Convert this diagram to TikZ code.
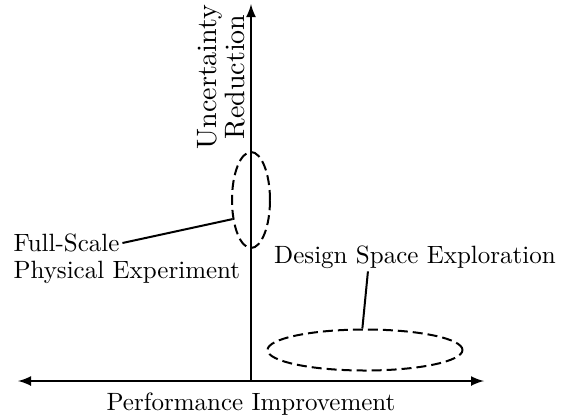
\documentclass[tikz,border=0pt]{standalone}
\usetikzlibrary{arrows,shapes.geometric}

\tikzset{
    axis/.style={thick,>=latex},
    region/.style={ellipse,draw,thick,dash pattern=on 4pt off 2pt,inner sep=0pt},
    leader/.style={thick},
    lbl/.style={inner sep=1pt}
}

\begin{document}
\begin{tikzpicture}[x=0.4pt,y=-0.4pt]
            \useasboundingbox (0,0) rectangle (561,416);
            % axes
            \coordinate (o) at (251,381);
            \coordinate (top) at (251,4);
            \coordinate (left) at (18,381);
            \coordinate (right) at (484,381);
            \draw[axis,<->] (left)--(right);
            \draw[axis,->] (o)--(top);
            \node (xlab) at (251,404) {Performance Improvement};
            \node[rotate=90,align=center,scale=1.12,font=\fontsize{10}{10}\selectfont] (ylab) at (221,77) {Uncertainty\\Reduction};

            % regions
            \node[region,minimum width=15.2pt,minimum height=38.4pt] (fse) at (251,200) {};
            \node[region,minimum width=78pt,minimum height=16.4pt] (dse) at (365,350) {};

            \node[lbl,anchor=west] (full) at (10.5,243) {Full-Scale};
            \node[lbl,anchor=west] (phys) at (10.5,272) {Physical Experiment};
            \node[lbl] (dsetxt) at (415,257) {Design Space Exploration};

            \draw[leader] (full.east)--(fse.226);
            \draw[leader] (dse.97)--(dsetxt.197);
        \end{tikzpicture}
\end{document}
